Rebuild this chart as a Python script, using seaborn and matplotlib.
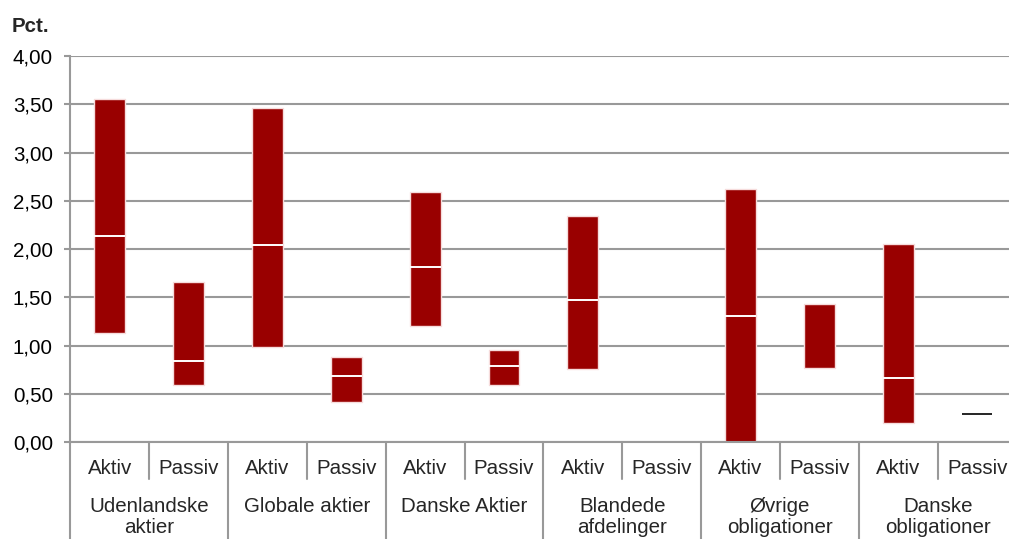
import numpy as np
import pandas as pd
import matplotlib
matplotlib.use("Agg")
import matplotlib.pyplot as plt
import matplotlib.transforms as mtransforms
import seaborn as sns

# ---- data ----
groups = ["Udenlandske\naktier", "Globale aktier", "Danske Aktier",
          "Blandede\nafdelinger", "Øvrige\nobligationer", "Danske\nobligationer"]
types = ["Aktiv", "Passiv"]
low = [1.13, 0.59, 0.99, 0.42, 1.20, 0.59, 0.76, np.nan, 0.00, 0.77, 0.20, 0.29]
median = [2.14, 0.84, 2.04, 0.69, 1.82, 0.79, 1.47, np.nan, 1.31, np.nan, 0.67, np.nan]
high = [3.55, 1.66, 3.46, 0.88, 2.59, 0.96, 2.34, np.nan, 2.62, 1.43, 2.05, 0.29]
yticks = [0.0, 0.5, 1.0, 1.5, 2.0, 2.5, 3.0, 3.5, 4.0]
ytick_labels = ["0,00", "0,50", "1,00", "1,50", "2,00", "2,50", "3,00", "3,50", "4,00"]

sns.set_style("white")
plt.rcParams["font.family"] = ["Liberation Sans", "DejaVu Sans"]

W, H = 1009, 539
FS = 14.8
fig = plt.figure(figsize=(W / 100, H / 100), dpi=100)
ax_left, ax_right = 70.3, 70.3 + 12 * 78.85
ax_bottom, ax_top = 442.3, 56.0
ax = fig.add_axes([ax_left / W, 1 - ax_bottom / H, (ax_right - ax_left) / W, (ax_bottom - ax_top) / H])

slots = [f"{g}|{t}" for g in groups for t in types]
df = pd.DataFrame({"slot": slots, "low": low, "median": median, "high": high})
df["range"] = (df["high"] - df["low"]).fillna(0.0)

RED = "#990000"
GRID = "#999999"
LW = 1.5
bar_w = 0.39

ax.set_axisbelow(True)
sns.barplot(data=df, x="slot", y="range", order=slots, color=RED, saturation=1,
            width=bar_w, errorbar=None, edgecolor="#f6dcdc", linewidth=1.0, ax=ax)

for patch, lo, rng in zip(ax.patches, df["low"], df["range"]):
    if np.isnan(lo) or rng == 0:
        patch.set_visible(False)
    else:
        patch.set_y(lo)

xs = np.arange(len(slots))
# median lines
for x, m in zip(xs, df["median"]):
    if not np.isnan(m):
        ax.hlines(m, x - bar_w / 2, x + bar_w / 2, color="white", linewidth=1.4, zorder=5)
# zero-range entries drawn as a single black line
for x, lo, rng in zip(xs, df["low"], df["high"] - df["low"]):
    if not np.isnan(lo) and rng == 0:
        ax.hlines(lo, x - bar_w / 2, x + bar_w / 2, color="black", linewidth=1.2, zorder=5)

ax.set_xlim(-0.5, len(slots) - 0.5)
ax.set_ylim(0, 4)
ax.set_yticks(yticks)
ax.set_yticklabels(ytick_labels, fontsize=FS, color="black")
ax.yaxis.grid(True, color=GRID, linewidth=LW)
ax.xaxis.grid(False)
ax.set_xticks([])
ax.set_xlabel("")
ax.set_ylabel("")
for s in ["top", "right"]:
    ax.spines[s].set_visible(False)
for s in ["left", "bottom"]:
    ax.spines[s].set_color(GRID)
    ax.spines[s].set_linewidth(LW)
ax.tick_params(axis="y", which="major", left=True, length=4.5, width=LW, color=GRID, pad=8)

trans = mtransforms.blended_transform_factory(ax.transData, fig.transFigure)

def fy(px):
    return 1 - px / H

# separators
for k in range(len(slots) + 1):
    xb = k - 0.5
    y_end = 539 if k % 2 == 0 else 479
    ax.plot([xb, xb], [fy(ax_bottom), fy(y_end)], transform=trans, color=GRID,
            linewidth=LW, clip_on=False)

# category labels
for x, s in zip(xs, slots):
    t = s.split("|")[1]
    ax.text(x, fy(468), t, transform=trans, ha="center", va="center", fontsize=FS)
for i, g in enumerate(groups):
    ax.text(2 * i + 0.5, fy(497), g, transform=trans, ha="center", va="top",
            fontsize=FS, linespacing=1.15, multialignment="center")

fig.text(12 / W, fy(27), "Pct.", fontsize=FS, fontweight="bold", ha="left", va="center")

fig.savefig("out.png", dpi=100)
